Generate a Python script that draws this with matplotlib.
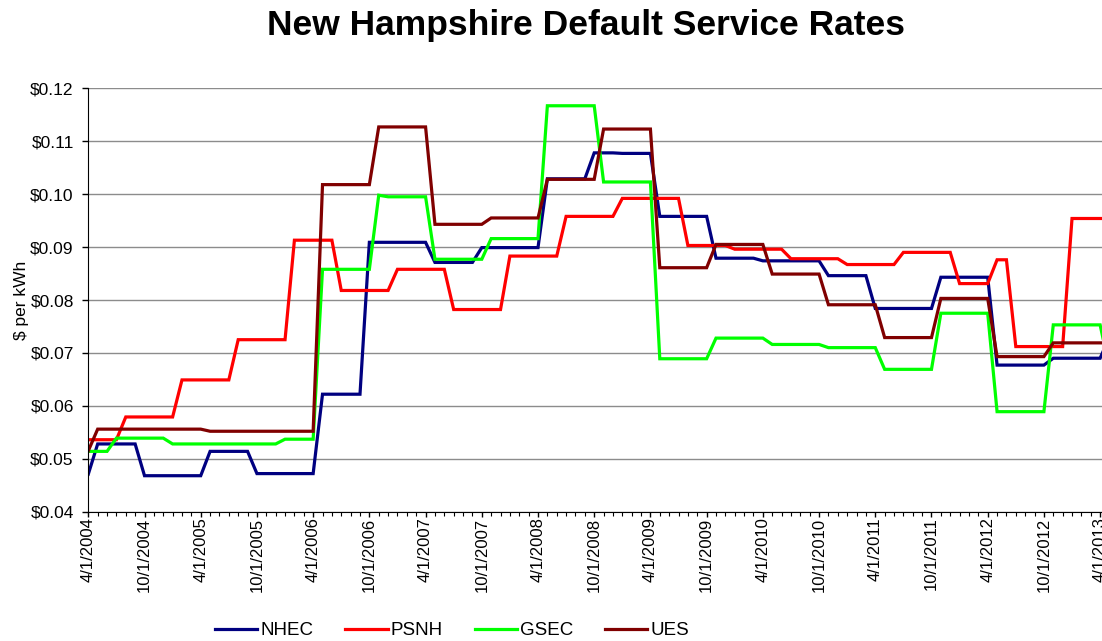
import matplotlib.pyplot as plt
from matplotlib.ticker import MultipleLocator, FuncFormatter

plt.rcParams['font.family'] = ['Liberation Sans', 'DejaVu Sans']

# monthly rates, $/kWh, starting 4/1/2004 (12 values per row)
nhec = [0.0471, 0.0528, 0.0528, 0.0528, 0.0528, 0.0528, 0.0468, 0.0468, 0.0468, 0.0468, 0.0468, 0.0468,
        0.0468, 0.0514, 0.0514, 0.0514, 0.0514, 0.0514, 0.0472, 0.0472, 0.0472, 0.0472, 0.0472, 0.0472,
        0.0472, 0.0622, 0.0622, 0.0622, 0.0622, 0.0622, 0.0909, 0.0909, 0.0909, 0.0909, 0.0909, 0.0909,
        0.0909, 0.0871, 0.0871, 0.0871, 0.0871, 0.0871, 0.0899, 0.0899, 0.0899, 0.0899, 0.0899, 0.0899,
        0.0899, 0.1029, 0.1029, 0.1029, 0.1029, 0.1029, 0.1078, 0.1078, 0.1078, 0.1077, 0.1077, 0.1077,
        0.1077, 0.0958, 0.0958, 0.0958, 0.0958, 0.0958, 0.0958, 0.0879, 0.0879, 0.0879, 0.0879, 0.0879,
        0.0874, 0.0874, 0.0874, 0.0874, 0.0874, 0.0874, 0.0874, 0.0846, 0.0846, 0.0846, 0.0846, 0.0846,
        0.0784, 0.0784, 0.0784, 0.0784, 0.0784, 0.0784, 0.0784, 0.0843, 0.0843, 0.0843, 0.0843, 0.0843,
        0.0843, 0.0677, 0.0677, 0.0677, 0.0677, 0.0677, 0.0677, 0.0690, 0.0690, 0.0690, 0.0690, 0.0690,
        0.0690, 0.0730]

psnh = [0.0536, 0.0536, 0.0536, 0.0536, 0.0579, 0.0579, 0.0579, 0.0579, 0.0579, 0.0579, 0.0649, 0.0649,
        0.0649, 0.0649, 0.0649, 0.0649, 0.0725, 0.0725, 0.0725, 0.0725, 0.0725, 0.0725, 0.0913, 0.0913,
        0.0913, 0.0913, 0.0913, 0.0818, 0.0818, 0.0818, 0.0818, 0.0818, 0.0818, 0.0858, 0.0858, 0.0858,
        0.0858, 0.0858, 0.0858, 0.0782, 0.0782, 0.0782, 0.0782, 0.0782, 0.0782, 0.0883, 0.0883, 0.0883,
        0.0883, 0.0883, 0.0883, 0.0958, 0.0958, 0.0958, 0.0958, 0.0958, 0.0958, 0.0992, 0.0992, 0.0992,
        0.0992, 0.0992, 0.0992, 0.0992, 0.0903, 0.0903, 0.0903, 0.0903, 0.0903, 0.0896, 0.0896, 0.0896,
        0.0896, 0.0896, 0.0896, 0.0878, 0.0878, 0.0878, 0.0878, 0.0878, 0.0878, 0.0867, 0.0867, 0.0867,
        0.0867, 0.0867, 0.0867, 0.0890, 0.0890, 0.0890, 0.0890, 0.0890, 0.0890, 0.0831, 0.0831, 0.0831,
        0.0831, 0.0876, 0.0876, 0.0712, 0.0712, 0.0712, 0.0712, 0.0712, 0.0712, 0.0954, 0.0954, 0.0954,
        0.0954, 0.0954]

gsec = [0.0514, 0.0514, 0.0514, 0.0539, 0.0539, 0.0539, 0.0539, 0.0539, 0.0539, 0.0528, 0.0528, 0.0528,
        0.0528, 0.0528, 0.0528, 0.0528, 0.0528, 0.0528, 0.0528, 0.0528, 0.0528, 0.0537, 0.0537, 0.0537,
        0.0537, 0.0858, 0.0858, 0.0858, 0.0858, 0.0858, 0.0858, 0.0998, 0.0995, 0.0995, 0.0995, 0.0995,
        0.0995, 0.0877, 0.0877, 0.0877, 0.0877, 0.0877, 0.0877, 0.0916, 0.0916, 0.0916, 0.0916, 0.0916,
        0.0916, 0.1167, 0.1167, 0.1167, 0.1167, 0.1167, 0.1167, 0.1023, 0.1023, 0.1023, 0.1023, 0.1023,
        0.1023, 0.0689, 0.0689, 0.0689, 0.0689, 0.0689, 0.0689, 0.0728, 0.0728, 0.0728, 0.0728, 0.0728,
        0.0728, 0.0716, 0.0716, 0.0716, 0.0716, 0.0716, 0.0716, 0.0710, 0.0710, 0.0710, 0.0710, 0.0710,
        0.0710, 0.0669, 0.0669, 0.0669, 0.0669, 0.0669, 0.0669, 0.0775, 0.0775, 0.0775, 0.0775, 0.0775,
        0.0775, 0.0589, 0.0589, 0.0589, 0.0589, 0.0589, 0.0589, 0.0753, 0.0753, 0.0753, 0.0753, 0.0753,
        0.0753, 0.0670]

ues = [0.0515, 0.0556, 0.0556, 0.0556, 0.0556, 0.0556, 0.0556, 0.0556, 0.0556, 0.0556, 0.0556, 0.0556,
       0.0556, 0.0552, 0.0552, 0.0552, 0.0552, 0.0552, 0.0552, 0.0552, 0.0552, 0.0552, 0.0552, 0.0552,
       0.0552, 0.1018, 0.1018, 0.1018, 0.1018, 0.1018, 0.1018, 0.1127, 0.1127, 0.1127, 0.1127, 0.1127,
       0.1127, 0.0943, 0.0943, 0.0943, 0.0943, 0.0943, 0.0943, 0.0955, 0.0955, 0.0955, 0.0955, 0.0955,
       0.0955, 0.1028, 0.1028, 0.1028, 0.1028, 0.1028, 0.1028, 0.1123, 0.1123, 0.1123, 0.1123, 0.1123,
       0.1123, 0.0861, 0.0861, 0.0861, 0.0861, 0.0861, 0.0861, 0.0905, 0.0905, 0.0905, 0.0905, 0.0905,
       0.0905, 0.0849, 0.0849, 0.0849, 0.0849, 0.0849, 0.0849, 0.0791, 0.0791, 0.0791, 0.0791, 0.0791,
       0.0791, 0.0729, 0.0729, 0.0729, 0.0729, 0.0729, 0.0729, 0.0803, 0.0803, 0.0803, 0.0803, 0.0803,
       0.0803, 0.0693, 0.0693, 0.0693, 0.0693, 0.0693, 0.0693, 0.0719, 0.0719, 0.0719, 0.0719, 0.0719,
       0.0719, 0.0719]

date_labels = ['4/1/2004', '10/1/2004', '4/1/2005', '10/1/2005', '4/1/2006', '10/1/2006',
               '4/1/2007', '10/1/2007', '4/1/2008', '10/1/2008', '4/1/2009', '10/1/2009',
               '4/1/2010', '10/1/2010', '4/1/2011', '10/1/2011', '4/1/2012', '10/1/2012',
               '4/1/2013']

series = [('NHEC', nhec, '#000080'), ('PSNH', psnh, '#ff0000'),
          ('GSEC', gsec, '#00ff00'), ('UES', ues, '#800000')]

fig = plt.figure(figsize=(11.02, 6.41), dpi=100)
ax = fig.add_axes([88.3/1102, 129.3/641, 1013.7/1102, 423.4/641])

for name, vals, col in series:
    ax.plot(range(len(vals)), vals, color=col, lw=2.3, label=name, solid_joinstyle='miter')

ax.set_xlim(0, 108.2)
ax.set_ylim(0.04, 0.12)
ax.yaxis.set_major_locator(MultipleLocator(0.01))
ax.yaxis.set_major_formatter(FuncFormatter(lambda v, p: '\\$%.2f' % v))
ax.set_xticks(range(0, 6 * len(date_labels), 6))
ax.set_xticklabels(date_labels, rotation=90, fontsize=12)
ax.xaxis.set_minor_locator(MultipleLocator(1))
ax.tick_params(axis='y', labelsize=12.5, length=4, width=1, pad=6.5)
ax.tick_params(axis='x', which='major', length=3.6, width=1, pad=0.5)
ax.tick_params(axis='x', which='minor', length=2.8, width=0.8)
ax.grid(axis='y', color='#8c8c8c', lw=1)
ax.set_axisbelow(True)
for s in ['top', 'right']:
    ax.spines[s].set_visible(False)
ax.set_ylabel('\\$ per kWh', fontsize=12.5, labelpad=1)

fig.text(586/1102, (641 - 35)/641, 'New Hampshire Default Service Rates',
         ha='center', va='baseline', fontsize=25.5, fontweight='bold')

fig.legend(loc='center', bbox_to_anchor=(452/1102, 10.5/641), ncol=4, frameon=False,
           fontsize=13.5, handlelength=2.25, handletextpad=0.16, columnspacing=1.7)

fig.savefig('out.png', dpi=100)
